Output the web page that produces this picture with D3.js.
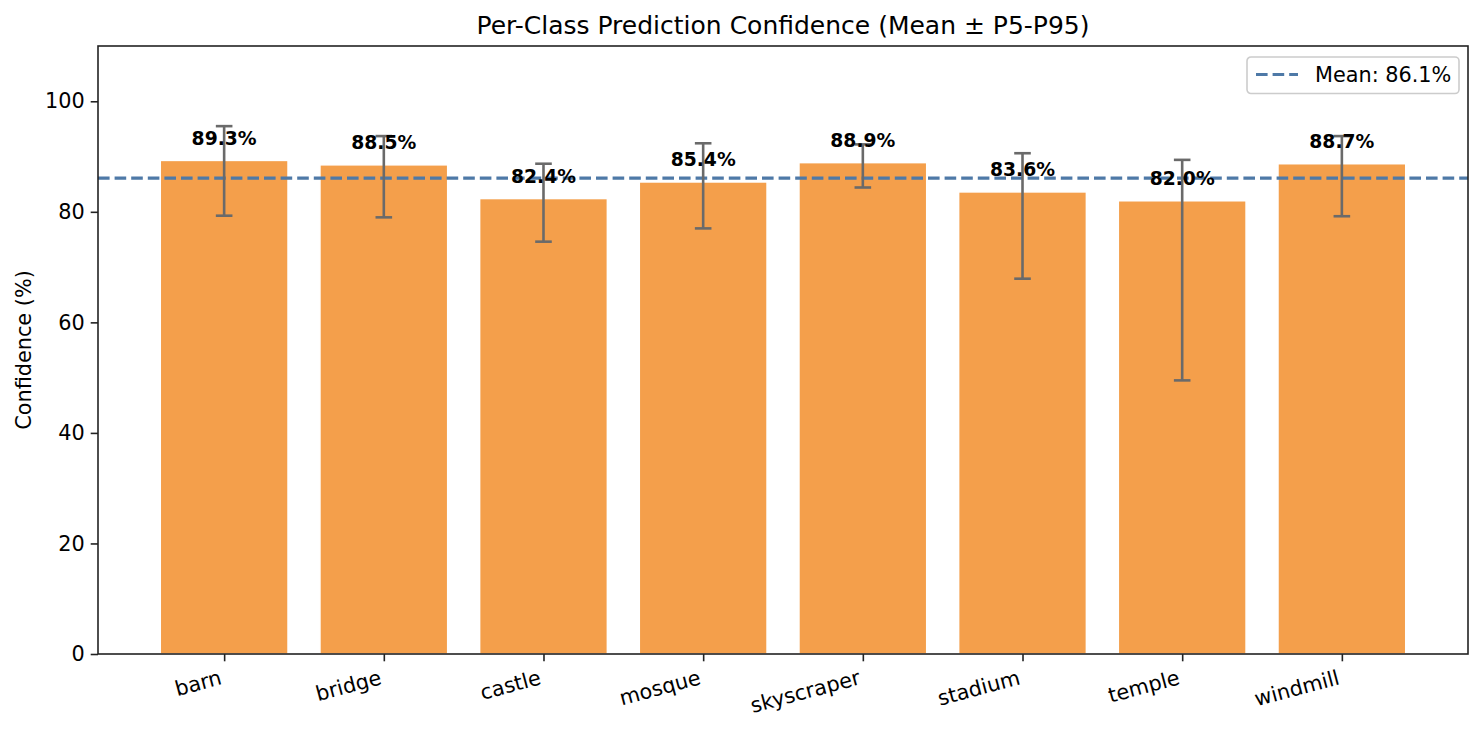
<!DOCTYPE html>
<html>
<head>
<meta charset="utf-8">
<script src="https://cdn.jsdelivr.net/npm/d3@7"></script>
<style>
  body { margin: 0; background: #fff; }
  svg { font-family: "DejaVu Sans", sans-serif; }
</style>
</head>
<body>
<svg id="chart" width="1484" height="732"></svg>
<script>
// per-class confidence
var classes = ["barn", "bridge", "castle", "mosque", "skyscraper", "stadium", "temple", "windmill"];
var meanConf = [89.3, 88.5, 82.4, 85.4, 88.9, 83.6, 82.0, 88.7];
var p5 = [79.3, 79.0, 74.6, 77.0, 84.4, 67.9, 49.5, 79.2];
var p95 = [95.5, 93.7, 88.7, 92.4, 92.2, 90.6, 89.4, 93.7];
var yTicks = [0, 20, 40, 60, 80, 100];
var overallMean = 86.1;

var margin = {top: 46, right: 16, bottom: 78, left: 98};
var width = 1484 - margin.left - margin.right,
    height = 732 - margin.top - margin.bottom;

var svg = d3.select("#chart");
var g = svg.append("g")
  .attr("transform", "translate(" + margin.left + "," + margin.top + ")");

// matplotlib style: bar width 0.8, 5% margins
var n = classes.length;
var pad = (n - 1 + 0.8) * 0.05;
var x = d3.scaleLinear()
  .domain([-0.4 - pad, n - 1 + 0.4 + pad])
  .range([0, width]);
var y = d3.scaleLinear().domain([0, 110]).range([height, 0]);

var data = classes.map(function(c, i){
  return {name: c, i: i, mean: meanConf[i], lo: p5[i], hi: p95[i]};
});

//bars
g.selectAll(".bar")
  .data(data)
  .enter()
  .append("rect")
  .attr("class", "bar")
  .attr("x", function(d){ return x(d.i - 0.4); })
  .attr("width", x(0.8) - x(0))
  .attr("y", function(d){ return y(d.mean); })
  .attr("height", function(d){ return y(0) - y(d.mean); })
  .style("fill", "#f28e2b")
  .style("fill-opacity", 0.85)
  .style("stroke", "#fff")
  .style("stroke-width", 1.5);

//mean line
g.append("line")
  .attr("x1", 0).attr("x2", width)
  .attr("y1", y(overallMean)).attr("y2", y(overallMean))
  .style("stroke", "#4e79a7")
  .style("stroke-width", 3.1)
  .style("stroke-dasharray", "11.6,5");

//error bars
var capW = 8.3;
var err = g.selectAll(".err")
  .data(data)
  .enter()
  .append("g")
  .attr("class", "err")
  .style("stroke", "#6a6a6a")
  .style("stroke-width", 2.6);
err.append("line")
  .attr("x1", function(d){ return x(d.i); })
  .attr("x2", function(d){ return x(d.i); })
  .attr("y1", function(d){ return y(d.lo); })
  .attr("y2", function(d){ return y(d.hi); });
err.append("line")
  .attr("x1", function(d){ return x(d.i) - capW; })
  .attr("x2", function(d){ return x(d.i) + capW; })
  .attr("y1", function(d){ return y(d.lo); })
  .attr("y2", function(d){ return y(d.lo); });
err.append("line")
  .attr("x1", function(d){ return x(d.i) - capW; })
  .attr("x2", function(d){ return x(d.i) + capW; })
  .attr("y1", function(d){ return y(d.hi); })
  .attr("y2", function(d){ return y(d.hi); });

//value labels
g.selectAll(".val")
  .data(data)
  .enter()
  .append("text")
  .attr("class", "val")
  .attr("x", function(d){ return x(d.i); })
  .attr("y", function(d){ return y(d.mean + 2.8); })
  .attr("text-anchor", "middle")
  .style("font-size", "18.75px")
  .style("font-weight", "bold")
  .style("fill", "#000")
  .text(function(d){ return d.mean.toFixed(1) + "%"; });

//axes
var yAxis = d3.axisLeft(y).tickValues(yTicks).tickSize(7.3).tickPadding(6);
var yG = g.append("g").call(yAxis);
yG.select(".domain").remove();
yG.selectAll("line").style("stroke", "#222").style("stroke-width", 1.6);
yG.selectAll("text").style("font-size", "20.8px").style("fill", "#000")
  .style("font-family", "DejaVu Sans");

var xAxis = d3.axisBottom(x).tickValues(d3.range(n)).tickSize(7.3).tickFormat("");
var xG = g.append("g").attr("transform", "translate(0," + height + ")").call(xAxis);
xG.select(".domain").remove();
xG.selectAll("line").style("stroke", "#222").style("stroke-width", 1.6);

//rotated class labels, right end at tick
g.selectAll(".xlab")
  .data(data)
  .enter()
  .append("text")
  .attr("class", "xlab")
  .attr("text-anchor", "end")
  .attr("transform", function(d){
    return "translate(" + (x(d.i) - 1.3) + "," + (height + 29.9) + ") rotate(-15)";
  })
  .style("font-size", "20.8px")
  .style("fill", "#000")
  .text(function(d){ return d.name; });

//spines
g.append("rect")
  .attr("width", width).attr("height", height)
  .style("fill", "none")
  .style("stroke", "#222")
  .style("stroke-width", 1.6);

//title
svg.append("text")
  .attr("x", margin.left + width / 2)
  .attr("y", 34)
  .attr("text-anchor", "middle")
  .style("font-size", "25px")
  .style("fill", "#000")
  .text("Per-Class Prediction Confidence (Mean \u00b1 P5-P95)");

//y label
svg.append("text")
  .attr("transform", "translate(31," + (margin.top + height / 2) + ") rotate(-90)")
  .attr("text-anchor", "middle")
  .style("font-size", "20.8px")
  .style("fill", "#000")
  .text("Confidence (%)");

//legend
var lg = svg.append("g").attr("transform", "translate(1247,57)");
lg.append("rect")
  .attr("width", 212).attr("height", 36.5)
  .attr("rx", 4).attr("ry", 4)
  .style("fill", "#fff").style("fill-opacity", 0.8)
  .style("stroke", "#ccc").style("stroke-width", 1.6);
lg.append("line")
  .attr("x1", 9).attr("x2", 51)
  .attr("y1", 17.5).attr("y2", 17.5)
  .style("stroke", "#4e79a7")
  .style("stroke-width", 3.1)
  .style("stroke-dasharray", "11.6,5");
lg.append("text")
  .attr("x", 68).attr("y", 25)
  .style("font-size", "20.8px")
  .style("fill", "#000")
  .text("Mean: " + overallMean.toFixed(1) + "%");
</script>
</body>
</html>
